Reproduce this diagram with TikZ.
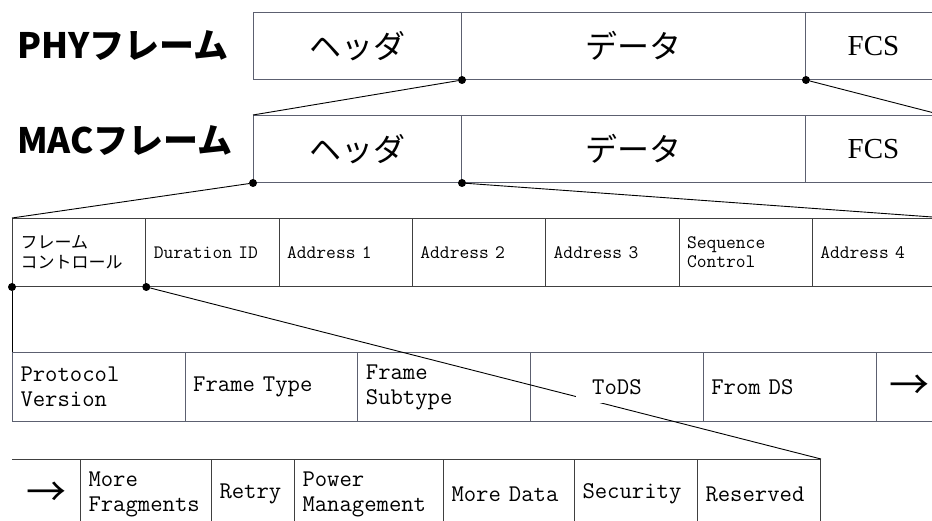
\documentclass[tikz,border=0pt]{standalone}
\usepackage{fontspec}
\setmainfont{Liberation Serif}
\newfontfamily\jpfont{Noto Sans CJK JP}
\usepackage{tikz}
\usetikzlibrary{positioning}
\definecolor{boxgray}{RGB}{92,96,112}
\tikzset{cell/.style = {rectangle,draw=black!75,line width=1pt,anchor=north west,inner sep=0pt},
         frm/.style = {cell,draw=boxgray,minimum width=#1,minimum height=67pt,font=\jpfont\fontsize{32}{32}\selectfont},
         fld/.style = {cell,minimum width=#1,text width=\the\dimexpr#1-16pt\relax,inner xsep=8pt,align=left,minimum height=68pt,font=\ttfamily\fontsize{19}{19}\selectfont},
         bit/.style = {fld=#1,draw=boxgray,minimum height=69pt,font=\ttfamily\fontsize{24}{25}\selectfont},
         lbl/.style = {anchor=west,inner sep=0pt,font=\jpfont\bfseries\fontsize{35}{35}\selectfont},
         dot/.style = {circle,fill=black,inner sep=0pt,minimum size=8pt},
         link/.style = {line width=0.9pt}}

\begin{document}
\begin{tikzpicture}[x=1pt, y=-1pt]
  \useasboundingbox (0,0) rectangle (932,521);
  \clip (0,0) rectangle (932,521);

  % PHY / MAC frames
  \node[lbl] (phylbl) at (17,46)  {PHYフレーム};
  \node[lbl] (maclbl) at (17,141) {MACフレーム};

  \node[frm=208pt] (phyhdr)  at (253,12) {ヘッダ};
  \node[frm=344pt] (phydata) at (461,12) {データ};
  \node[frm=136pt, font=\fontsize{29}{29}\selectfont] (phyfcs) at (805,12) {FCS};

  \node[frm=208pt] (machdr)  at (253,115) {ヘッダ};
  \node[frm=344pt] (macdata) at (461,115) {データ};
  \node[frm=136pt, font=\fontsize{29}{29}\selectfont] (macfcs) at (805,115) {FCS};

  % MAC header
  \node[fld=133.3pt, font=\jpfont\fontsize{17}{20}\selectfont] (fc) at (12,218) {フレーム\\コントロール};
  \node[fld=133.3pt] (dur)   at (145.3,218) {Duration ID};
  \node[fld=133.3pt] (addr1) at (278.6,218) {Address 1};
  \node[fld=133.3pt] (addr2) at (411.9,218) {Address 2};
  \node[fld=133.3pt] (addr3) at (545.2,218) {Address 3};
  \node[fld=133.3pt] (seq)   at (678.5,218) {Sequence\\Control};
  \node[fld=133.3pt] (addr4) at (811.8,218) {Address 4};

  % frame control
  \node[bit=172.7pt] (proto)   at (12,352)    {Protocol\\Version};
  \node[bit=172.7pt] (ftype)   at (184.7,352) {Frame Type};
  \node[bit=172.7pt] (fsub)    at (357.4,352) {Frame\\Subtype};
  \node[bit=172.7pt] (tods)    at (530.1,352) {};
  \node[bit=172.7pt] (fromds)  at (702.8,352) {From DS};
  \node[bit=67pt, align=center, font=\jpfont\fontsize{40}{40}\selectfont] (more1) at (875.5,352) {→};

  \node[bit=68pt, draw=none, align=center, font=\jpfont\fontsize{40}{40}\selectfont] (more2) at (12,459) {→};
  \node[bit=131pt, draw=black!75] (morefrag) at (80,459)  {More\\Fragments};
  \node[bit=83pt,  draw=black!75] (retry)    at (211,459) {Retry};
  \node[bit=149pt, draw=black!75] (pwr)      at (294,459) {Power\\Management};
  \node[bit=131pt, draw=black!75] (moredata) at (443,459) {More Data};
  \node[bit=123pt, draw=black!75] (sec)      at (574,459) {Security};
  \node[bit=123pt, draw=black!75] (resv)     at (697,459) {Reserved};
  \draw[cell] (more2.north west) -- (more2.north east);

  % dots and links
  \node[dot] (d1) at (phyhdr.south east)  {};
  \node[dot] (d2) at (phydata.south east) {};
  \node[dot] (d3) at (machdr.south west)  {};
  \node[dot] (d4) at (machdr.south east)  {};
  \node[dot] (d5) at (fc.south west)      {};
  \node[dot] (d6) at (fc.south east)      {};

  \draw[link] (d1) -- (machdr.north west);
  \draw[link] (d2) -- (macfcs.north east);
  \draw[link] (d3) -- (fc.north west);
  \draw[link] (d4) -- (addr4.north east);
  \draw[link] (d5) -- (proto.north west);
  \draw[link] (d6) -- (resv.north east);

  \node[fill=white, inner xsep=16pt, inner ysep=8pt, font=\ttfamily\fontsize{24}{25}\selectfont] (todslbl) at (tods) {ToDS};
\end{tikzpicture}
\end{document}
